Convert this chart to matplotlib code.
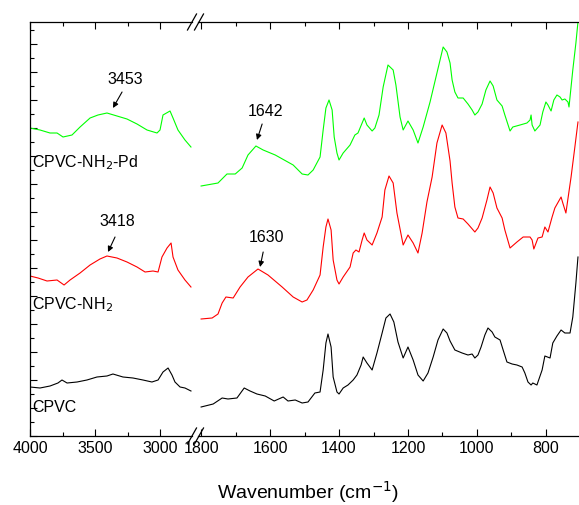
import matplotlib
matplotlib.use("Agg")
import matplotlib.pyplot as plt
from matplotlib.ticker import MultipleLocator, NullFormatter
from matplotlib.lines import Line2D

plt.rcParams['font.family'] = ['Liberation Sans', 'DejaVu Sans']
plt.rcParams['font.size'] = 11.5

# high wavenumber region (4000 - 2750 cm-1)
hi_wn = [4000, 3923, 3846, 3792, 3746, 3677, 3615, 3538, 3477, 3408, 3331, 3254,
         3177, 3100, 3023, 3000, 2977, 2923, 2900, 2862, 2808, 2762]
hi_pd = [308, 306, 303, 303, 299, 301, 309, 318, 321, 323, 320, 317,
         312, 306, 303, 306, 321, 325, 318, 306, 296, 289]

hi_wn_nh2 = [4000, 3938, 3869, 3792, 3738, 3692, 3615, 3538, 3462, 3408, 3331, 3254,
             3177, 3115, 3054, 3015, 2985, 2946, 2915, 2900, 2862, 2808, 2762]
hi_nh2 = [160, 158, 155, 156, 151, 156, 163, 171, 177, 180, 178, 174,
          169, 164, 165, 164, 179, 188, 193, 179, 166, 156, 149]

hi_wn_cpvc = [4000, 3923, 3846, 3785, 3754, 3715, 3638, 3562, 3485, 3408, 3362, 3285,
              3208, 3131, 3062, 3015, 2977, 2938, 2908, 2885, 2846, 2808, 2762]
hi_cpvc = [49, 48, 50, 53, 56, 53, 54, 56, 59, 60, 62, 59,
           58, 56, 54, 56, 64, 68, 61, 54, 49, 48, 45]

# fingerprint region (1800 - 700 cm-1)
lo_wn_pd = [1800, 1751, 1725, 1701, 1681, 1664, 1641, 1620, 1585, 1559, 1533, 1507,
            1490, 1475, 1455, 1446, 1438, 1429, 1420, 1414, 1406, 1400, 1388, 1368,
            1354, 1345, 1333, 1327, 1319, 1304, 1296, 1284, 1272, 1258, 1243, 1235,
            1223, 1214, 1200, 1185, 1171, 1156, 1136, 1116, 1098, 1087, 1078, 1072,
            1064, 1055, 1040, 1026, 1014, 1006, 997, 985, 974, 962, 953, 942,
            927, 919, 904, 896, 875, 855, 846, 843, 840, 832, 817, 809,
            800, 794, 785, 777, 768, 759, 753, 745, 736, 733, 722, 713, 707]
lo_pd = [250, 253, 262, 262, 268, 281, 290, 286, 281, 276, 271, 262,
         261, 266, 279, 306, 328, 336, 326, 299, 283, 276, 283, 291,
         301, 303, 313, 318, 311, 305, 308, 321, 349, 371, 366, 351,
         319, 306, 315, 306, 293, 309, 334, 363, 389, 384, 373, 356,
         344, 338, 338, 332, 326, 321, 324, 332, 346, 355, 350, 336,
         330, 321, 305, 309, 311, 313, 316, 321, 311, 305, 311, 324,
         334, 331, 325, 336, 341, 339, 336, 337, 334, 329, 366, 393, 414]

lo_wn_nh2 = [1800, 1768, 1751, 1739, 1728, 1707, 1687, 1664, 1635, 1606, 1565, 1533,
             1507, 1493, 1475, 1455, 1446, 1438, 1432, 1423, 1417, 1406, 1400, 1388,
             1368, 1359, 1351, 1342, 1333, 1327, 1319, 1304, 1290, 1275, 1267, 1255,
             1243, 1232, 1214, 1200, 1185, 1171, 1159, 1145, 1130, 1116, 1101, 1090,
             1078, 1072, 1064, 1055, 1040, 1026, 1006, 997, 985, 971, 962, 953,
             942, 927, 919, 904, 884, 866, 846, 840, 835, 823, 811, 803,
             794, 782, 774, 756, 751, 742, 727, 716, 707]
lo_nh2 = [117, 118, 122, 133, 139, 138, 149, 159, 167, 161, 149, 139,
          134, 136, 146, 161, 189, 209, 217, 206, 176, 156, 152, 159,
          169, 183, 186, 184, 196, 203, 196, 191, 203, 219, 246, 260,
          253, 223, 191, 201, 193, 183, 203, 234, 259, 293, 311, 303,
          275, 253, 229, 218, 217, 212, 204, 208, 218, 236, 249, 243,
          228, 218, 206, 188, 194, 199, 199, 196, 187, 198, 199, 209,
          204, 219, 228, 239, 233, 223, 259, 289, 314]

lo_wn_cpvc = [1800, 1765, 1739, 1722, 1696, 1675, 1658, 1638, 1614, 1588, 1562, 1548,
              1527, 1507, 1490, 1470, 1455, 1446, 1438, 1432, 1423, 1417, 1406, 1400,
              1388, 1374, 1359, 1348, 1336, 1330, 1319, 1304, 1290, 1275, 1264, 1252,
              1241, 1229, 1214, 1200, 1185, 1171, 1156, 1142, 1127, 1113, 1098, 1087,
              1078, 1064, 1043, 1026, 1014, 1006, 997, 988, 977, 968, 956, 948,
              933, 924, 913, 898, 884, 869, 861, 852, 843, 838, 826, 811,
              803, 788, 780, 768, 756, 745, 730, 722, 713, 707]
lo_cpvc = [29, 32, 38, 37, 38, 48, 45, 42, 40, 35, 39, 35,
           36, 33, 34, 43, 44, 66, 93, 102, 89, 59, 44, 42,
           48, 51, 56, 61, 71, 79, 73, 66, 83, 103, 118, 122,
           114, 94, 78, 89, 76, 61, 55, 63, 79, 96, 107, 103,
           95, 86, 83, 81, 82, 78, 81, 89, 101, 108, 104, 99,
           96, 86, 74, 72, 71, 69, 63, 54, 51, 53, 51, 66,
           80, 78, 93, 100, 106, 103, 103, 119, 153, 179]

fig = plt.figure(figsize=(5.79, 5.05), dpi=100)
W, H = 579.0, 505.0
bottom = 1 - 436 / H
height = (436 - 22) / H
ax1 = fig.add_axes([30 / W, bottom, (192 - 30) / W, height])
ax2 = fig.add_axes([198 / W, bottom, (579 - 198) / W, height])

lw = 0.8
green, red = '#00ff00', '#ff0000'
ax1.plot(hi_wn, hi_pd, color=green, lw=lw)
ax1.plot(hi_wn_nh2, hi_nh2, color=red, lw=lw)
ax1.plot(hi_wn_cpvc, hi_cpvc, color='black', lw=lw)
ax2.plot(lo_wn_pd, lo_pd, color=green, lw=lw)
ax2.plot(lo_wn_nh2, lo_nh2, color=red, lw=lw)
ax2.plot(lo_wn_cpvc, lo_cpvc, color='black', lw=lw)

ax1.set_xlim(4000, 2754)
ax2.set_xlim(1809, 704)
for ax in (ax1, ax2):
    ax.set_ylim(0, 414)
    ax.tick_params(which='both', direction='in', top=True, labelsize=11.5)
    ax.tick_params(which='major', length=5, width=0.8)
    ax.tick_params(which='minor', length=3, width=0.8)
    for s in ax.spines.values():
        s.set_linewidth(0.9)
ax1.xaxis.set_major_locator(MultipleLocator(500))
ax1.xaxis.set_minor_locator(MultipleLocator(250))
ax2.xaxis.set_major_locator(MultipleLocator(200))
ax2.xaxis.set_minor_locator(MultipleLocator(100))
ax1.yaxis.set_major_locator(MultipleLocator(28))
ax1.yaxis.set_minor_locator(MultipleLocator(14))
ax1.yaxis.set_major_formatter(NullFormatter())
ax1.spines['right'].set_visible(False)
ax2.spines['left'].set_visible(False)
ax2.spines['right'].set_visible(False)
ax2.tick_params(which='both', left=False, labelleft=False)

# sample labels
ax1.text(3985, 273, 'CPVC-NH$_2$-Pd', ha='left', va='center')
ax1.text(3985, 131, 'CPVC-NH$_2$', ha='left', va='center')
ax1.text(3985, 29, 'CPVC', ha='left', va='center')

arrow = dict(arrowstyle='-|>', color='black', lw=0.8, mutation_scale=8,
             shrinkA=0, shrinkB=0)
ax1.text(3269, 357, '3453', ha='center', va='center')
ax1.annotate('', xy=(3362, 328), xytext=(3292, 344), arrowprops=arrow)
ax1.text(3331, 214, '3418', ha='center', va='center')
ax1.annotate('', xy=(3400, 184), xytext=(3346, 199), arrowprops=arrow)
ax2.text(1612, 325, '1642', ha='center', va='center')
ax2.annotate('', xy=(1638, 296), xytext=(1623, 312), arrowprops=arrow)
ax2.text(1609, 198, '1630', ha='center', va='center')
ax2.annotate('', xy=(1629, 169), xytext=(1620, 184), arrowprops=arrow)

# axis break marks
for yb in (436, 22):
    for xb in (192, 199):
        fig.add_artist(Line2D([(xb - 4.5) / W, (xb + 4.5) / W],
                              [1 - (yb + 8) / H, 1 - (yb - 8) / H],
                              transform=fig.transFigure, color='black', lw=0.9))

fig.text(308 / W, 1 - 492 / H, 'Wavenumber (cm$^{-1}$)', ha='center', va='center',
         fontsize=14)

fig.savefig('out.png', dpi=100)
